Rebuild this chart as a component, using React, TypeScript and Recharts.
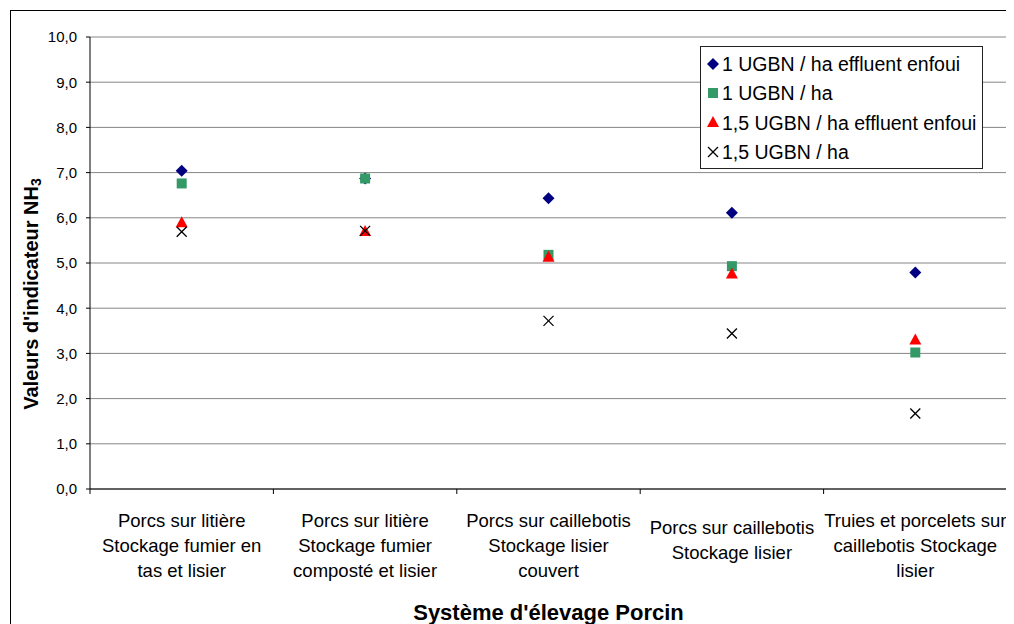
import { ScatterChart, Scatter, XAxis, YAxis, CartesianGrid, Legend, ReferenceLine, Label } from 'recharts';

// categories (one entry per pig housing system), split in lines as in the picture
const categoryLines = [
  ['Porcs sur litière', 'Stockage fumier en', 'tas et lisier'],
  ['Porcs sur litière', 'Stockage fumier', 'composté et lisier'],
  ['Porcs sur caillebotis', 'Stockage lisier', 'couvert'],
  ['Porcs sur caillebotis', 'Stockage lisier'],
  ['Truies et porcelets sur', 'caillebotis Stockage', 'lisier'],
];

const ugbn1Enfoui = [7.04, 6.87, 6.43, 6.11, 4.79];
const ugbn1 = [6.76, 6.87, 5.18, 4.93, 3.02];
const ugbn15Enfoui = [5.9, 5.71, 5.14, 4.77, 3.31];
const ugbn15 = [5.69, 5.71, 3.72, 3.44, 1.67];

const yTicks = [0, 1, 2, 3, 4, 5, 6, 7, 8, 9, 10];
const xTicks = [0, 0.5, 1, 1.5, 2, 2.5, 3, 3.5, 4, 4.5, 5];

const FONT = '"Liberation Sans", Arial, sans-serif';

const toPoints = (vals: number[]) => vals.map((v, i) => ({ x: i + 0.5, y: v }));

const series = [
  { name: '1 UGBN / ha effluent enfoui', values: ugbn1Enfoui, color: '#000080', kind: 'diamond' },
  { name: '1 UGBN / ha', values: ugbn1, color: '#339966', kind: 'square' },
  { name: '1,5 UGBN / ha effluent enfoui', values: ugbn15Enfoui, color: '#ff0000', kind: 'triangle' },
  { name: '1,5 UGBN / ha', values: ugbn15, color: '#000000', kind: 'x' },
];

function Marker({ kind, cx, cy, color }: { kind: string; cx: number; cy: number; color: string }) {
  if (kind === 'diamond')
    return <polygon points={`${cx},${cy - 6} ${cx + 6},${cy} ${cx},${cy + 6} ${cx - 6},${cy}`} fill={color} />;
  if (kind === 'square') return <rect x={cx - 5} y={cy - 5} width={10} height={10} fill={color} />;
  if (kind === 'triangle')
    return <polygon points={`${cx},${cy - 6} ${cx + 6},${cy + 5} ${cx - 6},${cy + 5}`} fill={color} />;
  return (
    <g stroke={color} strokeWidth={1.3}>
      <line x1={cx - 5} y1={cy - 5} x2={cx + 5} y2={cy + 5} />
      <line x1={cx - 5} y1={cy + 5} x2={cx + 5} y2={cy - 5} />
    </g>
  );
}

function XTick(props: any) {
  const { x, y, payload } = props;
  const v = payload.value as number;
  if (Number.isInteger(v)) return <line x1={x} x2={x} y1={y} y2={y + 5} stroke="#000" />;
  const lines = categoryLines[Math.floor(v)] || [];
  const first = 57 - ((lines.length - 1) * 25) / 2 - (3 - lines.length) * 6;
  return (
    <text x={x} y={y} textAnchor="middle" fill="#000" fontSize={18.5} fontFamily={FONT}>
      {lines.map((l, i) => (
        <tspan key={i} x={x} y={y + first + i * 25 + 6}>
          {l}
        </tspan>
      ))}
    </text>
  );
}

function LegendBox() {
  return (
    <div
      style={{
        border: '1px solid #222',
        background: '#fff',
        width: 281,
        height: 118,
        paddingTop: 3,
        boxSizing: 'content-box',
        fontFamily: FONT,
        fontSize: 19.5,
        color: '#000',
      }}
    >
      {series.map((s) => (
        <div key={s.name} style={{ height: 29.3, display: 'flex', alignItems: 'center', whiteSpace: 'nowrap' }}>
          <svg width={21} height={16} style={{ flex: 'none' }}>
            <Marker kind={s.kind} cx={12} cy={7} color={s.color} />
          </svg>
          <span>{s.name}</span>
        </div>
      ))}
    </div>
  );
}

export default function App() {
  return (
    <div style={{ position: 'relative', width: 1006, height: 616, overflow: 'hidden', fontFamily: FONT }}>
      <div
        style={{ position: 'absolute', left: 2, top: 2, width: 999, height: 700, border: '1px solid #000' }}
      />
      <ScatterChart width={1006} height={616} margin={{ top: 29, right: 7, left: 0, bottom: 0 }}>
        <CartesianGrid vertical={false} stroke="#868686" />
        <XAxis
          type="number"
          dataKey="x"
          domain={[0, 5]}
          ticks={xTicks}
          interval={0}
          tickSize={0}
          tickMargin={0}
          tickLine={false}
          tick={<XTick />}
          height={135}
          stroke="#000"
        >
          <Label
            content={({ viewBox }: any) => (
              <text
                x={viewBox.x + viewBox.width / 2}
                y={viewBox.y + 131}
                textAnchor="middle"
                fontSize={22}
                fontWeight="bold"
                fontFamily={FONT}
                fill="#000"
              >
                Système d'élevage Porcin
              </text>
            )}
          />
        </XAxis>
        <YAxis
          type="number"
          dataKey="y"
          domain={[0, 10]}
          ticks={yTicks}
          interval={0}
          width={82}
          tickSize={4}
          tickMargin={9}
          stroke="#000"
          tick={{ fill: '#000', fontSize: 15, fontFamily: FONT }}
          tickFormatter={(v: number) => v.toFixed(1).replace('.', ',')}
        >
          <Label
            content={({ viewBox }: any) => {
              const cx = 23;
              const cy = viewBox.y + viewBox.height / 2 + 31;
              return (
                <text
                  x={cx}
                  y={cy}
                  transform={`rotate(-90, ${cx}, ${cy})`}
                  textAnchor="middle"
                  dominantBaseline="central"
                  fontSize={20}
                  fontWeight="bold"
                  fontFamily={FONT}
                  fill="#000"
                >
                  Valeurs d'indicateur NH
                  <tspan fontSize={14} dy={5}>
                    3
                  </tspan>
                </text>
              );
            }}
          />
        </YAxis>
        <ReferenceLine x={5} stroke="#868686" />
        <Legend
          layout="horizontal"
          verticalAlign="middle"
          align="center"
          content={() => <LegendBox />}
          wrapperStyle={{ position: 'absolute', left: 692, top: 38, width: 283, height: 122 }}
        />
        {series.map((s) => (
          <Scatter
            key={s.name}
            name={s.name}
            data={toPoints(s.values)}
            fill={s.color}
            isAnimationActive={false}
            shape={(p: any) => <Marker kind={s.kind} cx={p.cx} cy={p.cy} color={s.color} />}
          />
        ))}
      </ScatterChart>
    </div>
  );
}
